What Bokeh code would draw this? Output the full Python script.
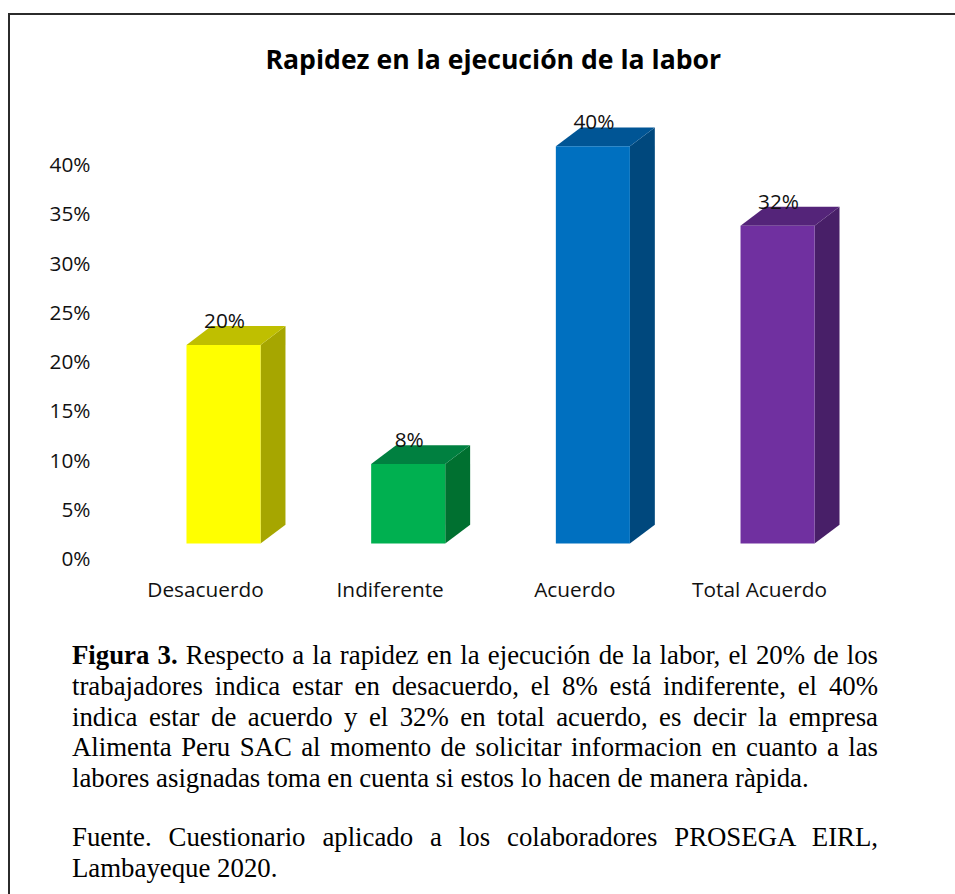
from bokeh.plotting import figure
from bokeh.models import Range1d, LinearAxis, FixedTicker, Div, ColumnDataSource
from bokeh.layouts import column
from bokeh.core.properties import value
from bokeh.embed import file_html
from bokeh.resources import INLINE

title_text = "Rapidez en la ejecución de la labor"
categories = ["Desacuerdo", "Indiferente", "Acuerdo", "Total Acuerdo"]
values = [20, 8, 40, 32]
value_labels = ["20%", "8%", "40%", "32%"]
front_colors = ["#FFFF00", "#00B050", "#0070C0", "#7030A0"]
top_colors = ["#BFBF00", "#008040", "#005595", "#542479"]
side_colors = ["#A6A600", "#007030", "#00487D", "#481F68"]
y_ticks = [0, 5, 10, 15, 20, 25, 30, 35, 40]
caption_justified = [
    "<b>Figura 3.</b> Respecto a la rapidez en la ejecución de la labor, el 20% de los",
    "trabajadores indica estar en desacuerdo, el 8% está indiferente, el 40%",
    "indica estar de acuerdo y el 32% en total acuerdo, es decir la empresa",
    "Alimenta Peru SAC al momento de solicitar informacion en cuanto a las",
]
caption_last = "labores asignadas toma en cuenta si estos lo hacen de manera ràpida."
source_justified = "Fuente. Cuestionario aplicado a los colaboradores PROSEGA EIRL,"
source_last = "Lambayeque 2020."

W, FIG_H, DIV_H = 955, 630, 264
FONT = "Open Sans"
FL, FR = -0.103, 0.298   # front face edges relative to the category position
DX, DY = 0.135, 1.9      # apparent depth of the 3D bars
INK = "#2b2b2b"

p = figure(width=W, height=FIG_H, output_backend="svg", toolbar_location=None,
           x_range=Range1d(-0.6227, 4.061), y_range=Range1d(-2.719, 44.61),
           min_border_left=90, min_border_right=0, min_border_top=100, min_border_bottom=60,
           x_axis_type=None, y_axis_type=None)
p.xgrid.visible = False
p.ygrid.visible = False
p.outline_line_color = None
p.background_fill_color = None
p.border_fill_color = None
p.styles = {"background-image": f"linear-gradient({INK},{INK}),linear-gradient({INK},{INK})",
            "background-size": "100% 2px,2px 100%",
            "background-position": "8px 13px,8px 13px",
            "background-repeat": "no-repeat"}

p.title.text = title_text
p.title.align = "left"
p.title.offset = 175
p.title.standoff = 48
p.title.text_font = FONT
p.title.text_font_size = "26.6px"
p.title.text_font_style = "bold"
p.title.text_color = "#000000"

p.extra_y_ranges = {"ticks": Range1d(-1.269, 46.45)}
yax = LinearAxis(y_range_name="ticks", ticker=FixedTicker(ticks=y_ticks))
yax.major_label_overrides = {t: f"{t}%" for t in y_ticks}
yax.axis_line_color = None
yax.major_tick_line_color = None
yax.minor_tick_line_color = None
yax.major_tick_out = 0
yax.major_tick_in = 0
yax.major_label_standoff = 0
yax.major_label_text_font = FONT
yax.major_label_text_font_size = "20.8px"
yax.major_label_text_color = "#111111"
p.add_layout(yax, "left")

xs = list(range(len(categories)))
xax = LinearAxis(ticker=FixedTicker(ticks=xs))
xax.major_label_overrides = {i: c for i, c in zip(xs, categories)}
xax.axis_line_color = None
xax.major_tick_line_color = None
xax.minor_tick_line_color = None
xax.major_tick_out = 0
xax.major_tick_in = 0
xax.major_label_standoff = 4
xax.major_label_text_font = FONT
xax.major_label_text_font_size = "20.8px"
xax.major_label_text_color = "#111111"
p.add_layout(xax, "below")

side_x = [[i + FR, i + FR + DX, i + FR + DX, i + FR] for i in xs]
side_y = [[0, DY, v + DY, v] for v in values]
top_x = [[i + FL, i + FR, i + FR + DX, i + FL + DX] for i in xs]
top_y = [[v, v, v + DY, v + DY] for v in values]
p.patches(side_x, side_y, fill_color=side_colors, line_color=None)
p.patches(top_x, top_y, fill_color=top_colors, line_color=None)
p.quad(left=[i + FL for i in xs], right=[i + FR for i in xs], bottom=0, top=values,
       fill_color=front_colors, line_color=None)

src = ColumnDataSource(dict(x=[i + (FL + FR) / 2 for i in xs], y=values, t=value_labels))
p.text("x", "y", text="t", source=src, text_align="center", text_baseline="alphabetic",
       x_offset=1, y_offset=-25, text_font=value(FONT), text_font_size="20.8px", text_color="#111111")

just = "text-align:justify;text-align-last:justify;"
body = "".join(f'<div style="{just}">{t}</div>' for t in caption_justified)
body += f'<div>{caption_last}</div><div style="height:28px"></div>'
body += f'<div style="{just}">{source_justified}</div><div>{source_last}</div>'
html = ('<div style="box-sizing:border-box;width:870px;height:%dpx;margin-left:8px;border-left:2px solid %s;'
        'padding:10px 0 0 62px;font-family:\'Liberation Serif\',serif;font-size:26.8px;'
        'line-height:30.75px;color:#000">%s</div>') % (DIV_H, INK, body)
d = Div(text=html, width=W, height=DIV_H, margin=(0, 0, 0, 0))

page = column(p, d, spacing=0)
open("out.html", "w").write(file_html(page, INLINE))
